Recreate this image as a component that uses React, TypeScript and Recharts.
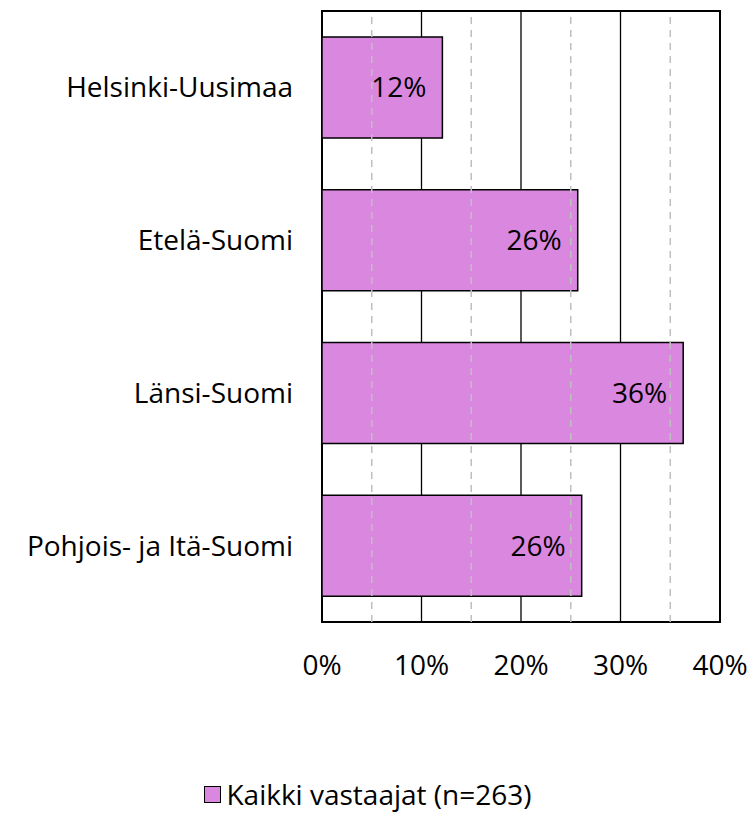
import React from 'react';
import {
  BarChart, Bar, XAxis, YAxis, CartesianGrid, ReferenceLine, ReferenceArea, LabelList,
} from 'recharts';

const regions = ['Helsinki-Uusimaa', 'Etelä-Suomi', 'Länsi-Suomi', 'Pohjois- ja Itä-Suomi'];
const shares = [12.1, 25.7, 36.3, 26.1];
const shareLabels = ['12%', '26%', '36%', '26%'];
const xTicks = [0, 10, 20, 30, 40];
const minorTicks = [5, 15, 25, 35];
const seriesName = 'Kaikki vastaajat (n=263)';

const data = regions.map((region, i) => ({ region, value: shares[i], label: shareLabels[i] }));

const FONT = '"Open Sans", Lato, sans-serif';
const FS = 28;
const FILL = '#DA87E0';

export default function App() {
  return (
    <div style={{ position: 'absolute', left: 0, top: 0, width: 754, height: 825, background: '#fff' }}>
      <BarChart
        width={754}
        height={825}
        data={data}
        layout="vertical"
        margin={{ top: 11, right: 34, bottom: 173, left: 0 }}
        barCategoryGap="17%"
      >
        <XAxis
          type="number"
          domain={[0, 40]}
          ticks={xTicks}
          tickFormatter={(v: number) => `${v}%`}
          axisLine={false}
          tickLine={false}
          tickSize={0}
          tickMargin={33}
          height={30}
          tick={{ fontSize: FS, fill: '#000', fontFamily: FONT }}
        />
        <YAxis
          type="category"
          dataKey="region"
          width={322}
          axisLine={false}
          tickLine={false}
          tickSize={0}
          tickMargin={29}
          tick={{ fontSize: FS, fill: '#000', fontFamily: FONT }}
        />
        {minorTicks.map(t => (
          <ReferenceLine key={t} x={t} stroke="#BFBFBF" strokeWidth={1.5} strokeDasharray="7 6" />
        ))}
        <CartesianGrid horizontal={false} stroke="#000" strokeWidth={1.3} />
        <Bar dataKey="value" fill={FILL} stroke="#000" strokeWidth={1.5} isAnimationActive={false}>
          <LabelList
            dataKey="label"
            position="insideRight"
            offset={16}
            style={{ fontSize: FS, fill: '#000', fontFamily: FONT }}
          />
        </Bar>
        <ReferenceArea x1={0} x2={40} fill="none" stroke="#000" strokeWidth={2} />
      </BarChart>
      <div
        style={{
          position: 'absolute',
          left: 0,
          top: 775,
          width: 736,
          display: 'flex',
          alignItems: 'center',
          justifyContent: 'center',
          fontFamily: FONT,
          fontSize: FS,
          color: '#000',
        }}
      >
        <span
          style={{
            display: 'inline-block',
            boxSizing: 'border-box',
            width: 17,
            height: 17,
            background: FILL,
            border: '1.5px solid #000',
            marginRight: 5,
          }}
        />
        {seriesName}
      </div>
    </div>
  );
}
